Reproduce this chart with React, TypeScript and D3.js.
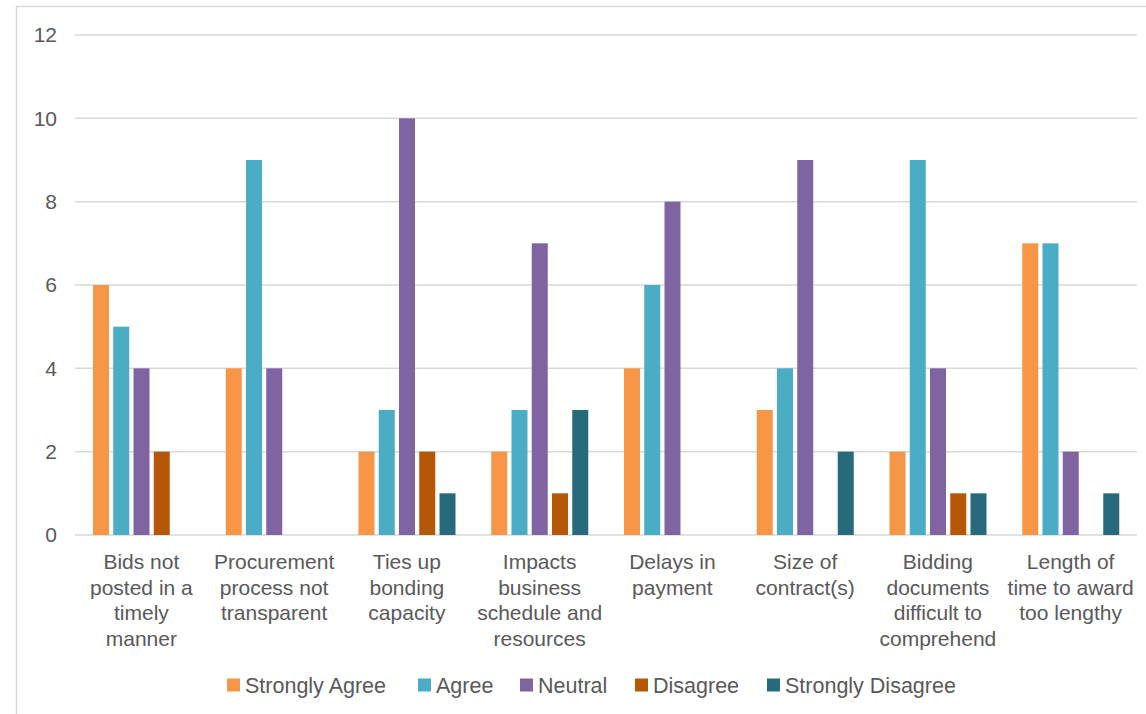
import React, { useEffect, useRef } from "react";
import * as d3 from "d3";

// categories, each one split into the lines shown under the axis
const categories = [
  ["Bids not", "posted in a", "timely", "manner"],
  ["Procurement", "process not", "transparent"],
  ["Ties up", "bonding", "capacity"],
  ["Impacts", "business", "schedule and", "resources"],
  ["Delays in", "payment"],
  ["Size of", "contract(s)"],
  ["Bidding", "documents", "difficult to", "comprehend"],
  ["Length of", "time to award", "too lengthy"],
];

const seriesNames = ["Strongly Agree", "Agree", "Neutral", "Disagree", "Strongly Disagree"];
const stronglyAgree = [6, 4, 2, 2, 4, 3, 2, 7];
const agree = [5, 9, 3, 3, 6, 4, 9, 7];
const neutral = [4, 4, 10, 7, 8, 9, 4, 2];
const disagree = [2, 0, 2, 1, 0, 0, 1, 0];
const stronglyDisagree = [0, 0, 1, 3, 0, 2, 1, 1];
const yTicks = [0, 2, 4, 6, 8, 10, 12];

const colors = ["#F79646", "#4BACC6", "#8064A2", "#B65708", "#276A7C"];

const W = 1146;
const H = 714;

const App = () => {
  const ref = useRef<SVGSVGElement>(null);

  useEffect(() => {
    const values = [stronglyAgree, agree, neutral, disagree, stronglyDisagree];
    const svg = d3.select(ref.current);
    svg.selectAll("*").remove();

    const font = "'Liberation Sans', Arial, sans-serif";
    const textColor = "#595959";

    // outer frame
    svg
      .append("rect")
      .attr("x", 16.5)
      .attr("y", 6.5)
      .attr("width", W)
      .attr("height", H)
      .attr("fill", "white")
      .attr("stroke", "#d9d9d9")
      .attr("stroke-width", 1.5);

    const left = 75;
    const right = 1137;
    const y = d3.scaleLinear().domain([0, 12]).range([535, 35]);
    const x0 = d3
      .scaleBand<number>()
      .domain(d3.range(categories.length))
      .range([left, right]);
    const x1 = d3
      .scaleBand<number>()
      .domain(d3.range(seriesNames.length))
      .range([18, 115])
      .paddingInner(0.21);

    // gridlines
    svg
      .append("g")
      .selectAll("line")
      .data(yTicks)
      .join("line")
      .attr("x1", left)
      .attr("x2", right)
      .attr("y1", (d) => y(d))
      .attr("y2", (d) => y(d))
      .attr("stroke", "#d9d9d9")
      .attr("stroke-width", 1.5);

    svg
      .append("g")
      .selectAll("text")
      .data(yTicks)
      .join("text")
      .attr("x", 57)
      .attr("y", (d) => y(d))
      .attr("dy", "0.35em")
      .attr("text-anchor", "end")
      .attr("font-family", font)
      .attr("font-size", 21)
      .attr("fill", textColor)
      .text((d) => d);

    // bars
    const groups = svg
      .append("g")
      .selectAll("g")
      .data(categories.map((_, i) => i))
      .join("g")
      .attr("transform", (i) => `translate(${x0(i)},0)`);

    groups
      .selectAll("rect")
      .data((i) => values.map((s, k) => ({ k, v: s[i] })))
      .join("rect")
      .attr("x", (d) => x1(d.k)!)
      .attr("width", x1.bandwidth())
      .attr("y", (d) => y(d.v))
      .attr("height", (d) => y(0) - y(d.v))
      .attr("fill", (d) => colors[d.k]);

    // category labels
    const labels = svg
      .append("g")
      .selectAll("text")
      .data(categories)
      .join("text")
      .attr("x", (_, i) => x0(i)! + x0.bandwidth() / 2)
      .attr("y", 569)
      .attr("text-anchor", "middle")
      .attr("font-family", font)
      .attr("font-size", 21)
      .attr("fill", textColor);
    labels
      .selectAll("tspan")
      .data((d) => d)
      .join("tspan")
      .attr("x", function () {
        return (this.parentNode as SVGTextElement).getAttribute("x");
      })
      .attr("dy", (_, j) => (j === 0 ? 0 : 25.5))
      .text((d) => d);

    // legend
    const legendX = [227, 418, 520, 635, 767];
    const legend = svg
      .append("g")
      .selectAll("g")
      .data(seriesNames)
      .join("g")
      .attr("transform", (_, i) => `translate(${legendX[i]},685)`);
    legend
      .append("rect")
      .attr("x", 0)
      .attr("y", -6.5)
      .attr("width", 13)
      .attr("height", 13)
      .attr("fill", (_, i) => colors[i]);
    legend
      .append("text")
      .attr("x", 18)
      .attr("dy", "0.35em")
      .attr("font-family", font)
      .attr("font-size", 21.5)
      .attr("fill", textColor)
      .text((d) => d);
  }, []);

  return (
    <svg
      ref={ref}
      width={W}
      height={H}
      style={{ position: "absolute", left: 0, top: 0, background: "white" }}
    />
  );
};

export default App;
